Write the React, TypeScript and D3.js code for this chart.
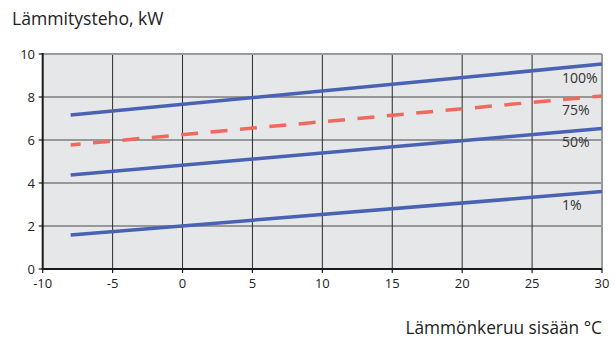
import React from "react";
import * as d3 from "d3";

const xTicks = [-10, -5, 0, 5, 10, 15, 20, 25, 30];
const yTicks = [0, 2, 4, 6, 8, 10];
const xTemps = [-8, 30];
const series100 = [7.16, 9.53];
const series75 = [5.77, 8.05];
const series50 = [4.37, 6.54];
const series1 = [1.58, 3.6];
const seriesLabels = ["100%", "75%", "50%", "1%"];
const labelValues = [9.1, 7.65, 6.15, 3.2];

const W = 616;
const H = 342;
const FONT = "'Open Sans', 'DejaVu Sans', sans-serif";

export default function App() {
  const x = d3.scaleLinear().domain([-10, 30]).range([42.7, 602]);
  const y = d3.scaleLinear().domain([0, 10]).range([269, 54]);
  const line = d3
    .line<number>()
    .x((_, i) => x(xTemps[i]))
    .y((d) => y(d));

  const blue = "#4a62b3";
  const red = "#ef6a5e";

  return (
    <svg
      width={W}
      height={H}
      style={{ position: "absolute", left: 0, top: 0, background: "#fff" }}
      fontFamily={FONT}
    >
      <rect x={x(-10)} y={y(10)} width={x(30) - x(-10)} height={y(0) - y(10)} fill="#e6e7e9" />
      {yTicks.slice(1, -1).map((t) => (
        <line key={"h" + t} x1={x(-10)} x2={x(30)} y1={y(t)} y2={y(t)} stroke="#4a4a4a" strokeWidth={1.2} />
      ))}
      {xTicks.slice(1, -1).map((t) => (
        <line key={"v" + t} x1={x(t)} x2={x(t)} y1={y(10)} y2={y(0)} stroke="#2a2a2a" strokeWidth={1} />
      ))}
      <line x1={x(-10)} x2={x(30)} y1={y(10)} y2={y(10)} stroke="#9a9a9a" strokeWidth={2} />
      <line x1={x(30)} x2={x(30)} y1={y(10)} y2={y(0)} stroke="#9a9a9a" strokeWidth={2} />
      <line x1={x(-10)} x2={x(-10)} y1={y(10) - 1} y2={y(0) + 1} stroke="#1a1a1a" strokeWidth={2} />
      <line x1={x(-10) - 1} x2={x(30)} y1={y(0)} y2={y(0)} stroke="#1a1a1a" strokeWidth={2} />
      {yTicks.map((t) => (
        <g key={"yt" + t}>
          <line x1={x(-10) - 4} x2={x(-10)} y1={y(t)} y2={y(t)} stroke="#1a1a1a" strokeWidth={1.2} />
          <text x={35} y={y(t) + 4.5} textAnchor="end" fontSize={13} fill="#222">
            {t}
          </text>
        </g>
      ))}
      {xTicks.map((t) => (
        <g key={"xt" + t}>
          <line x1={x(t)} x2={x(t)} y1={y(0)} y2={y(0) + 4} stroke="#1a1a1a" strokeWidth={1.2} />
          <text x={x(t)} y={288} textAnchor="middle" fontSize={13} fill="#222">
            {t}
          </text>
        </g>
      ))}
      <path d={line(series100) || ""} fill="none" stroke={blue} strokeWidth={3.5} />
      <path d={line(series50) || ""} fill="none" stroke={blue} strokeWidth={3.5} />
      <path d={line(series1) || ""} fill="none" stroke={blue} strokeWidth={3.5} />
      <path
        d={line(series75) || ""}
        fill="none"
        stroke={red}
        strokeWidth={3.5}
        strokeDasharray="17 12.5"
        strokeDashoffset={7}
      />
      {seriesLabels.map((l, i) => (
        <text key={l} x={562} y={y(labelValues[i]) + 10} fontSize={14} fill="#333">
          {l}
        </text>
      ))}
      <text x={12} y={25} fontSize={17.6} fill="#222">
        Lämmitysteho, kW
      </text>
      <text x={602} y={334} textAnchor="end" fontSize={17.3} fill="#222">
        Lämmönkeruu sisään °C
      </text>
    </svg>
  );
}
